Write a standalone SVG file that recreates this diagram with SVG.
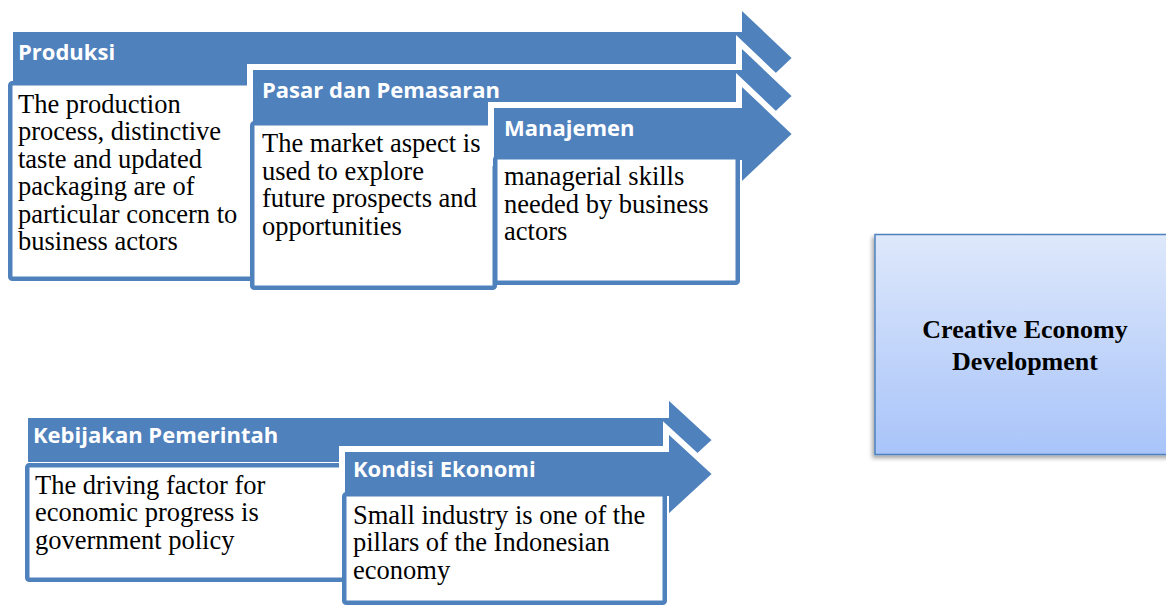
<svg xmlns="http://www.w3.org/2000/svg" width="1166" height="606" viewBox="0 0 1166 606">
  <defs>
    <linearGradient id="cedGrad" x1="0" y1="0" x2="0" y2="1">
      <stop offset="0" stop-color="#dee8fb"/>
      <stop offset="1" stop-color="#a8c4f9"/>
    </linearGradient>
    <filter id="shadow" x="-10%" y="-10%" width="120%" height="125%">
      <feDropShadow dx="-2" dy="3" stdDeviation="2" flood-color="#000" flood-opacity="0.35"/>
    </filter>
  </defs>
  <style>
    .arrow { fill: #4f81bd; stroke: #ffffff; stroke-width: 6; stroke-linejoin: miter; stroke-miterlimit: 10; }
    .box { fill: #ffffff; stroke: #4f81bd; stroke-width: 4.5; }
    .hdr { font-family: "Open Sans", "Liberation Sans", sans-serif; font-weight: bold; font-size: 22px; fill: #ffffff; }
    .body { font-family: "Liberation Serif", "Times New Roman", serif; font-size: 26.5px; fill: #000000; }
    .ced { font-family: "Liberation Serif", "Times New Roman", serif; font-weight: bold; font-size: 26px; fill: #000000; text-anchor: middle; }
  </style>
  <rect width="1166" height="606" fill="#ffffff"/>

  <g id="produksi">
    <path class="arrow" d="M10,29 H739 V4 L796,58 L739,112 V87 H10 Z"/>
    <rect class="box" x="10.25" y="83.25" width="242.5" height="195.5" rx="2"/>
    <text class="hdr" x="18" y="60">Produksi</text>
    <text class="body" x="18">
      <tspan x="18" y="112.5">The production</tspan>
      <tspan x="18" y="140">process, distinctive</tspan>
      <tspan x="18" y="167.5">taste and updated</tspan>
      <tspan x="18" y="195">packaging are of</tspan>
      <tspan x="18" y="222.5">particular concern to</tspan>
      <tspan x="18" y="250">business actors</tspan>
    </text>
  </g>

  <g id="pasar">
    <path class="arrow" d="M250,67 H739 V42 L796,96 L739,150 V125 H250 Z"/>
    <rect class="box" x="252.25" y="123.25" width="242.5" height="164.5" rx="2"/>
    <text class="hdr" x="262" y="97.5">Pasar dan Pemasaran</text>
    <text class="body">
      <tspan x="262" y="152">The market aspect is</tspan>
      <tspan x="262" y="179.5">used to explore</tspan>
      <tspan x="262" y="207">future prospects and</tspan>
      <tspan x="262" y="234.5">opportunities</tspan>
    </text>
  </g>

  <g id="manajemen">
    <path class="arrow" d="M491,105 H739 V80 L796,134 L739,188 V163 H491 Z"/>
    <rect class="box" x="495.25" y="157.25" width="242.5" height="125.5" rx="2"/>
    <text class="hdr" x="504" y="135.5">Manajemen</text>
    <text class="body">
      <tspan x="504" y="185">managerial skills</tspan>
      <tspan x="504" y="212.5">needed by business</tspan>
      <tspan x="504" y="240">actors</tspan>
    </text>
  </g>

  <g id="kebijakan">
    <path class="arrow" d="M25,415 H666 V394 L716,440 L666,486 V465 H25 Z"/>
    <rect class="box" x="27.25" y="465.25" width="317.5" height="114.5" rx="2"/>
    <text class="hdr" x="33" y="443">Kebijakan Pemerintah</text>
    <text class="body">
      <tspan x="35" y="493.5">The driving factor for</tspan>
      <tspan x="35" y="521">economic progress is</tspan>
      <tspan x="35" y="548.5">government policy</tspan>
    </text>
  </g>

  <g id="kondisi">
    <path class="arrow" d="M342,449 H666 V428 L716,474 L666,520 V499 H342 Z"/>
    <rect class="box" x="344.25" y="494.25" width="320.5" height="108.5" rx="2"/>
    <text class="hdr" x="353" y="477">Kondisi Ekonomi</text>
    <text class="body">
      <tspan x="353" y="523.5">Small industry is one of the</tspan>
      <tspan x="353" y="551">pillars of the Indonesian</tspan>
      <tspan x="353" y="578.5">economy</tspan>
    </text>
  </g>

  <g id="creative-economy">
    <rect x="875" y="234.5" width="300" height="220" fill="url(#cedGrad)" stroke="#4f81bd" stroke-width="1.5" filter="url(#shadow)"/>
    <text class="ced" x="1025" y="338">Creative Economy</text>
    <text class="ced" x="1025" y="370">Development</text>
  </g>

  <g id="connectors"/>
</svg>
